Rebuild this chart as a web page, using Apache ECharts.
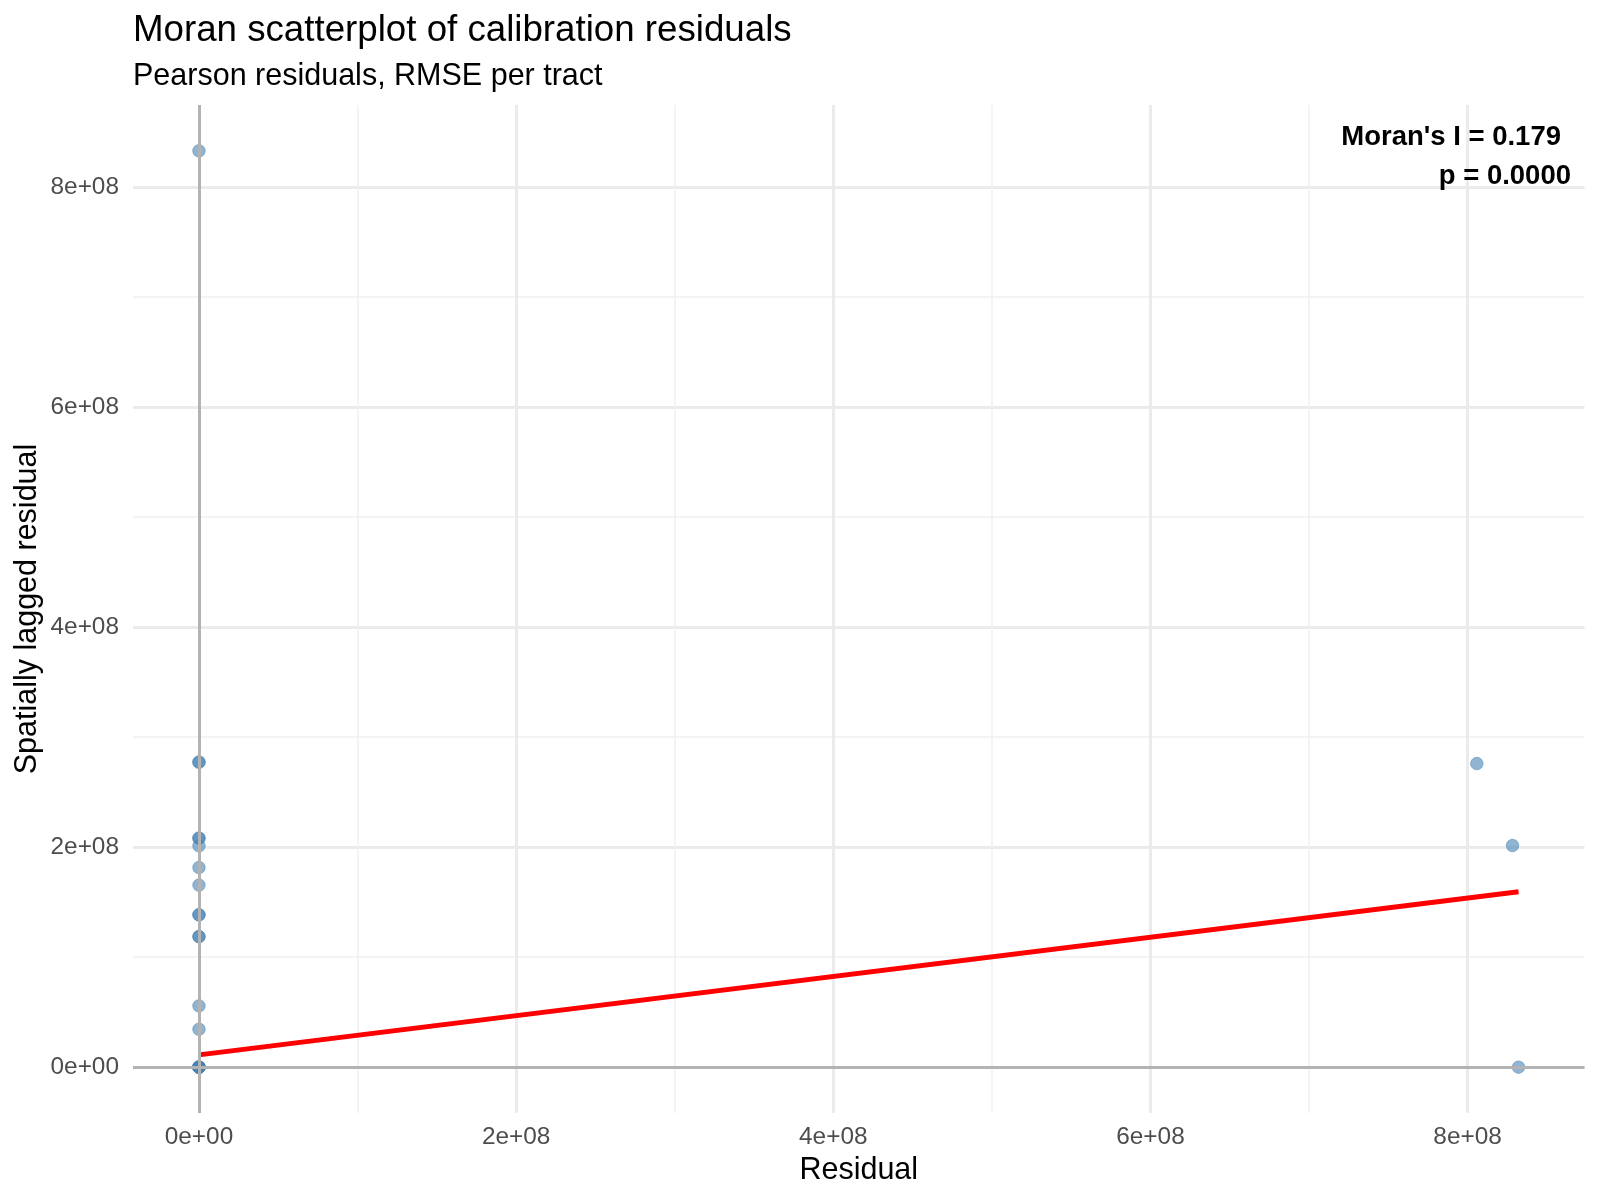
<!DOCTYPE html>
<html>
<head>
<meta charset="utf-8">
<script src="https://cdn.jsdelivr.net/npm/echarts@6/dist/echarts.min.js"></script>
<style>
html,body{margin:0;padding:0;background:#fff;}
#chart{width:1600px;height:1200px;}
</style>
</head>
<body>
<div id="chart"></div>
<script>
// ---- data ----
const residual = [0, 0, 0, 0, 0, 0, 0, 0, 0, 0, 0, 0, 0, 0, 0, 0, 0, 0, 0, 0, 8.058e8, 8.283e8, 8.321e8];
const laggedResidual = [8.33e8, 2.773e8, 2.773e8, 2.082e8, 2.082e8, 2.012e8, 1.815e8, 1.655e8, 1.385e8, 1.385e8, 1.187e8, 1.187e8, 0.557e8, 0.345e8, 0, 0, 0, 0, 0, 0, 2.76e8, 2.015e8, 0];
const fitX = [0, 8.321e8];
const fitY = [1.12e7, 1.594e8];
const refLines = [0];
const xMajorTicks = [0, 2e8, 4e8, 6e8, 8e8];
const xMinorTicks = [1e8, 3e8, 5e8, 7e8];
const yMajorTicks = [0, 2e8, 4e8, 6e8, 8e8];
const yMinorTicks = [1e8, 3e8, 5e8, 7e8];
const xTickLabels = ['0e+00', '2e+08', '4e+08', '6e+08', '8e+08'];
const yTickLabels = ['0e+00', '2e+08', '4e+08', '6e+08', '8e+08'];
const xLimits = [-0.416e8, 8.737e8];
const yLimits = [-0.4165e8, 8.7465e8];
const titleText = 'Moran scatterplot of calibration residuals';
const subtitleText = 'Pearson residuals, RMSE per tract';
const xTitle = 'Residual';
const yTitle = 'Spatially lagged residual';
const annotationLines = ["Moran's I = 0.179", 'p = 0.0000'];

// ---- chart ----
const FONT = '"Liberation Sans", Arial, Helvetica, sans-serif';
const GRID = {left: 133, right: 15.5, top: 105, bottom: 87};
const chart = echarts.init(document.getElementById('chart'), null, {renderer: 'canvas'});

function makeAxes(isX) {
  const lim = isX ? xLimits : yLimits;
  const major = isX ? xMajorTicks : yMajorTicks;
  const minor = isX ? xMinorTicks : yMinorTicks;
  const labels = isX ? xTickLabels : yTickLabels;
  return [
    {
      type: 'value', min: lim[0], max: lim[1], gridIndex: 0,
      position: isX ? 'bottom' : 'left',
      axisLine: {show: false},
      axisTick: {show: false, customValues: major},
      axisLabel: {
        show: true, customValues: major,
        formatter: v => labels[major.indexOf(v)],
        color: '#4d4d4d', fontSize: 24.4, fontFamily: FONT,
        margin: isX ? 12 : 14
      },
      splitLine: {show: true, lineStyle: {color: '#ebebeb', width: 3}},
      z: 0
    },
    {
      type: 'value', min: lim[0], max: lim[1], gridIndex: 0,
      position: isX ? 'top' : 'right',
      axisLine: {show: false},
      axisTick: {show: false, customValues: minor},
      axisLabel: {show: false},
      splitLine: {show: true, lineStyle: {color: '#f1f1f1', width: 1.5}},
      z: 0
    }
  ];
}

const points = residual.map((x, i) => [x, laggedResidual[i]]);
const fitLine = fitX.map((x, i) => [x, fitY[i]]);

const option = {
  animation: false,
  backgroundColor: '#ffffff',
  grid: GRID,
  xAxis: makeAxes(true),
  yAxis: makeAxes(false),
  series: [
    {
      type: 'scatter', xAxisIndex: 0, yAxisIndex: 0, data: [], z: 2, silent: true,
      markLine: {
        silent: true, symbol: ['none', 'none'], animation: false,
        label: {show: false},
        lineStyle: {color: '#b3b3b3', width: 3, type: 'solid'},
        emphasis: {disabled: true},
        data: refLines.map(v => ({xAxis: v})).concat(refLines.map(v => ({yAxis: v})))
      }
    },
    {
      type: 'scatter', xAxisIndex: 0, yAxisIndex: 0, data: points, z: 3,
      symbol: 'circle', symbolSize: 12.5,
      itemStyle: {color: 'rgba(70,130,180,0.6)', borderColor: 'rgba(70,130,180,0.5)', borderWidth: 1, opacity: 1}
    },
    {
      type: 'line', xAxisIndex: 0, yAxisIndex: 0, data: fitLine, z: 4,
      showSymbol: false, symbol: 'none',
      lineStyle: {color: '#ff0000', width: 5}
    }
  ],
  graphic: {
    elements: [
      {type: 'text', z: 100, x: 133, y: 31, style: {text: titleText, font: '36.7px ' + FONT, fill: '#000', align: 'left', verticalAlign: 'middle'}},
      {type: 'text', z: 100, x: 133, y: 76.5, style: {text: subtitleText, font: '30.5px ' + FONT, fill: '#000', align: 'left', verticalAlign: 'middle'}},
      {type: 'text', z: 100, x: 858.75, y: 1171, style: {text: xTitle, font: '30.5px ' + FONT, fill: '#000', align: 'center', verticalAlign: 'middle'}},
      {type: 'text', z: 100, x: 28, y: 609, rotation: Math.PI / 2, style: {text: yTitle, font: '30.5px ' + FONT, fill: '#000', align: 'center', verticalAlign: 'middle'}},
      {type: 'text', z: 100, x: 1561, y: 137, style: {text: annotationLines[0], font: 'bold 27.5px ' + FONT, fill: '#000', align: 'right', verticalAlign: 'middle'}},
      {type: 'text', z: 100, x: 1571, y: 176.5, style: {text: annotationLines[1], font: 'bold 27.5px ' + FONT, fill: '#000', align: 'right', verticalAlign: 'middle'}}
    ]
  }
};
chart.setOption(option);
</script>
</body>
</html>
